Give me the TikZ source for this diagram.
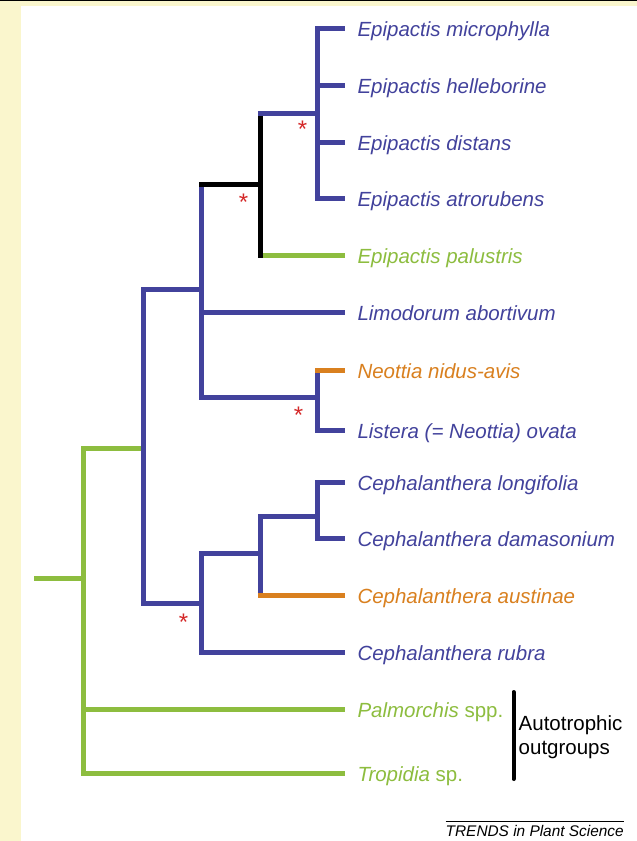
\documentclass[tikz,border=0pt]{standalone}
\usepackage{fontspec}
\setmainfont{Liberation Sans}
\definecolor{tblue}{RGB}{66,66,156}
\definecolor{tgreen}{RGB}{141,189,63}
\definecolor{torange}{RGB}{217,128,31}
\definecolor{tred}{RGB}{212,40,40}
\definecolor{tyellow}{RGB}{250,246,205}
\tikzset{
    br/.style={line width=5pt, line cap=rect},
    leaf/.style={anchor=west, inner xsep=0pt, outer xsep=15pt, inner ysep=0pt,
        text height=16pt, text depth=0pt, font=\fontsize{20.5}{24}\selectfont\itshape},
    star/.style={text=tred, inner sep=0pt, font=\fontsize{24}{26}\selectfont}
}
\begin{document}
\begin{tikzpicture}[>=latex, x=1pt, y=-1pt]
\fill[tyellow] (0,0) rectangle (636,841);
\fill[white] (20,6) rectangle (636,841);
\draw[line width=1pt] (0,0.5)--(636,0.5);
\useasboundingbox (0,0) rectangle (636,841);

% taxa
\foreach \n/\y/\t in {emic/28/microphylla, ehel/85/helleborine, edis/142/distans, eatr/198/atrorubens}
{
    \node[leaf, text=tblue] (\n) at (342,\y) {Epipactis \t};
}
\node[leaf, text=tgreen] (epal) at (342,255) {Epipactis palustris};
\node[leaf, text=tblue] (labo) at (342,312) {Limodorum abortivum};
\node[leaf, text=torange] (nnid) at (342,370) {Neottia nidus-avis};
\node[leaf, text=tblue] (lova) at (342,430) {Listera (= Neottia) ovata};
\node[leaf, text=tblue] (clon) at (342,482) {Cephalanthera longifolia};
\node[leaf, text=tblue] (cdam) at (342,538) {Cephalanthera damasonium};
\node[leaf, text=torange] (caus) at (342,595) {Cephalanthera austinae};
\node[leaf, text=tblue] (crub) at (342,652) {Cephalanthera rubra};
\node[leaf, text=tgreen] (palm) at (342,709) {Palmorchis \upshape spp.};
\node[leaf, text=tgreen] (trop) at (342,773) {Tropidia \upshape sp.};

% inner nodes
\coordinate (root) at (36,578);
\coordinate (r) at (83,578);
\coordinate (ing) at (143,448);
\coordinate (epl) at (201,289);
\coordinate (ep) at (260,184);
\coordinate (e4) at (317,113);
\coordinate (neo) at (317,397);
\coordinate (ceph) at (201,603);
\coordinate (c3) at (260,553);
\coordinate (c2) at (317,516);

% branches
\draw[br, tgreen] (root)--(r) (r)|-(ing) (r)|-(palm.west) (r)|-(trop.west)
    (ep|-epal.west)--(epal.west);
\draw[br, tblue] (ing)|-(epl) (ing)|-(ceph) (epl)--(epl|-ep) (epl)|-(labo.west) (epl)|-(neo)
    (neo)|-(lova.west) (neo)--(neo|-nnid.west)
    (ceph)|-(c3) (ceph)|-(crub.west) (c3)|-(c2) (c3)--(c3|-caus.west)
    (c2)|-(clon.west) (c2)|-(cdam.west);
\foreach \n in {emic, ehel, edis, eatr}
{
    \draw[br, tblue] (e4)|-(\n.west);
}
\draw[br, black] (epl|-ep)--(ep) (ep|-e4)--(ep|-epal.west);
\draw[br, tblue] (ep|-e4)--(e4);
\draw[br, torange] (neo|-nnid.west)--(nnid.west) (c3|-caus.west)--(caus.west);

% stars
\node[star] (s1) at (302,129.5) {*};
\node[star] (s2) at (243,202.5) {*};
\node[star] (s3) at (298,415.5) {*};
\node[star] (s4) at (183,622.5) {*};

% outgroups
\coordinate (bt) at (513,692);
\coordinate (bb) at (513,779);
\draw[line width=4pt, line cap=round] (bt)--(bb);
\node[anchor=west, align=left, inner sep=0pt, font=\fontsize{20.5}{24}\selectfont] (outg) at (518,737) {Autotrophic\\outgroups};

\node[anchor=base west, inner sep=0pt, font=\fontsize{15.4}{18}\selectfont\itshape] (trend) at (445,836.7) {TRENDS in Plant Science};
\draw[line width=0.8pt] ([yshift=3.7pt]trend.north west)--([yshift=3.7pt]trend.north east);

\end{tikzpicture}
\end{document}
